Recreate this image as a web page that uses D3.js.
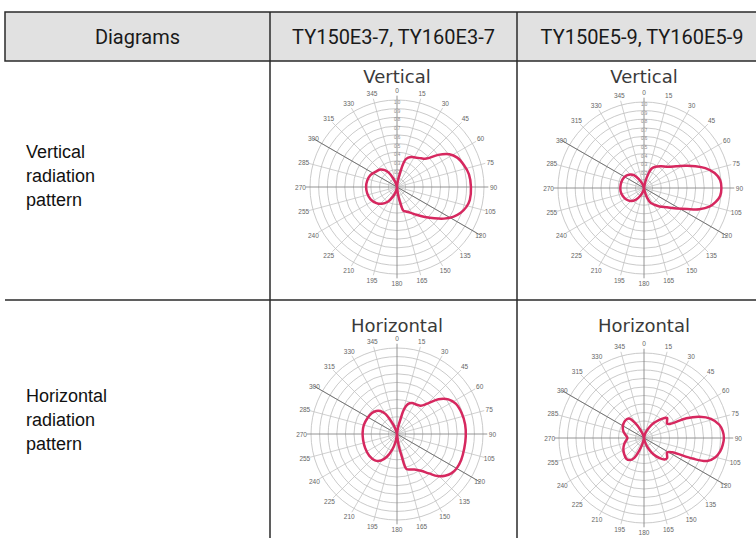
<!DOCTYPE html>
<html><head><meta charset="utf-8">
<script src="https://cdn.jsdelivr.net/npm/d3@7/dist/d3.min.js"></script>
<style>body{margin:0;background:#fff}svg{display:block}</style>
</head><body>
<svg id="c" width="756" height="538"></svg>
<script>
// ---------- data ----------
const headers = ["Diagrams", "TY150E3-7, TY160E3-7", "TY150E5-9, TY160E5-9"];
const rowLabelsVertical = ["Vertical", "radiation", "pattern"];
const rowLabelsHorizontal = ["Horizontal", "radiation", "pattern"];
const chartTitles = ["Vertical", "Horizontal"];
const angleTicks = [0,15,30,45,60,75,90,105,120,135,150,165,180,195,210,225,240,255,270,285,300,315,330,345];
const ringValues = [0.1,0.2,0.3,0.4,0.5,0.6,0.7,0.8,0.9,1.0];
const ringLabels = ["0.1","0.2","0.3","0.4","0.5","0.6","0.7","0.8","0.9","1.0"];

// patterns: [angle in degrees, relative field strength 0..1]
const vertE37 = [[0,0],[3,0],[8,0.07],[12,0.16],[15,0.28],[18,0.34],[25,0.38],[32,0.40],[40,0.43],[46,0.47],[52,0.60],[58,0.71],[64,0.77],[72,0.81],[80,0.84],[90,0.85],[100,0.85],[106,0.83],[112,0.79],[118,0.73],[124,0.65],[130,0.56],[137,0.47],[145,0.39],[153,0.33],[160,0.30],[165,0.28],[168,0.20],[172,0.10],[177,0],[183,0],[195,0.06],[203,0.12],[212,0.20],[222,0.26],[232,0.30],[245,0.335],[258,0.35],[270,0.355],[282,0.35],[294,0.335],[306,0.30],[316,0.28],[324,0.24],[330,0.19],[336,0.11],[343,0.04],[350,0]];
const vertE59 = [[0,0],[6,0],[12,0.08],[17,0.17],[21,0.24],[28,0.28],[38,0.32],[48,0.37],[56,0.45],[62,0.55],[67,0.65],[72,0.75],[78,0.84],[84,0.89],[90,0.90],[96,0.89],[101,0.85],[106,0.79],[111,0.69],[116,0.56],[122,0.45],[130,0.35],[140,0.28],[148,0.23],[156,0.19],[162,0.12],[168,0.05],[174,0],[186,0],[195,0.04],[205,0.10],[215,0.17],[225,0.215],[237,0.245],[250,0.265],[262,0.275],[272,0.275],[285,0.272],[298,0.262],[308,0.245],[316,0.22],[322,0.19],[330,0.12],[338,0.05],[345,0]];
const horE37 = [[0,0],[4,0],[9,0.08],[13,0.17],[16,0.30],[20,0.37],[26,0.40],[33,0.41],[40,0.43],[45,0.50],[50,0.63],[56,0.72],[63,0.77],[72,0.79],[82,0.80],[92,0.80],[102,0.80],[112,0.805],[120,0.80],[126,0.78],[131,0.74],[136,0.68],[141,0.59],[147,0.51],[154,0.46],[160,0.44],[165,0.42],[168,0.27],[172,0.13],[176,0],[186,0],[191,0.10],[197,0.19],[204,0.29],[211,0.36],[220,0.40],[232,0.41],[246,0.405],[260,0.40],[272,0.40],[285,0.40],[298,0.39],[310,0.38],[318,0.36],[324,0.33],[330,0.27],[335,0.17],[341,0.08],[347,0]];
const horE59 = [[0,0],[8,0],[16,0.06],[25,0.13],[33,0.21],[40,0.28],[45,0.33],[49,0.36],[53,0.34],[58,0.32],[62,0.36],[65,0.55],[69,0.70],[74,0.82],[80,0.90],[85,0.93],[90,0.94],[95,0.93],[100,0.91],[105,0.87],[110,0.79],[113,0.62],[117,0.37],[122,0.32],[127,0.34],[131,0.36],[136,0.35],[142,0.30],[150,0.22],[158,0.13],[166,0.05],[172,0],[188,0],[194,0.06],[200,0.15],[206,0.26],[213,0.31],[221,0.32],[231,0.30],[242,0.275],[254,0.24],[263,0.21],[270,0.195],[278,0.215],[288,0.255],[299,0.285],[310,0.30],[318,0.30],[324,0.28],[329,0.21],[336,0.11],[343,0.04],[350,0]];

// ---------- drawing ----------
const svg = d3.select("#c");
const lineCol = "#2a2a2a";

// header
svg.append("rect").attr("x", 5).attr("y", 12).attr("width", 760).attr("height", 49)
  .attr("fill", "#e1e1e1").attr("stroke", lineCol).attr("stroke-width", 1.5);
const colX = [5, 270, 517, 767];
const headFont = "Roboto, 'Liberation Sans', sans-serif";
headers.forEach((h, i) => {
  svg.append("text").attr("x", (colX[i] + colX[i+1]) / 2).attr("y", 44)
    .attr("text-anchor", "middle").attr("font-family", headFont).attr("font-size", 20)
    .attr("font-weight", 400).attr("fill", "#1a1a1a").text(h);
});
// grid lines of table
[270, 517].forEach(x => svg.append("line").attr("x1", x).attr("x2", x).attr("y1", 12).attr("y2", 538)
  .attr("stroke", lineCol).attr("stroke-width", 1.5));
svg.append("line").attr("x1", 5).attr("x2", 756).attr("y1", 300).attr("y2", 300)
  .attr("stroke", lineCol).attr("stroke-width", 1.5);

// row labels
function rowLabel(lines, y0) {
  const t = svg.append("text").attr("font-family", "'Liberation Sans', Arial, sans-serif")
    .attr("font-size", 18).attr("fill", "#111");
  lines.forEach((s, i) => t.append("tspan").attr("x", 26).attr("y", y0 + i * 24).text(s));
}
rowLabel(rowLabelsVertical, 158);
rowLabel(rowLabelsHorizontal, 402);

const angle = d3.scaleLinear().domain([0, 360]).range([0, 2 * Math.PI]);

function polarChart(cx, cy, R, title, titleY, data, withRingLabels) {
  const g = svg.append("g").attr("transform", `translate(${cx},${cy})`);
  const r = d3.scaleLinear().domain([0, 1]).range([0, R]);
  const pt = (a, v) => [Math.sin(angle(a)) * r(v), -Math.cos(angle(a)) * r(v)];
  // rings
  g.selectAll("circle.ring").data(ringValues).join("circle")
    .attr("r", d => r(d)).attr("fill", "none").attr("stroke", "#b8b8b8").attr("stroke-width", 0.75);
  // spokes
  g.selectAll("line.spoke").data(angleTicks).join("line")
    .attr("x1", 0).attr("y1", 0)
    .attr("x2", d => pt(d, 1.05)[0]).attr("y2", d => pt(d, 1.05)[1])
    .attr("stroke", d => (d % 90 === 0) ? "#888" : "#c0c0c0")
    .attr("stroke-width", d => (d % 90 === 0) ? 0.9 : 0.75);
  // dark diagonal 300-120
  g.append("line").attr("x1", pt(300, 1.12)[0]).attr("y1", pt(300, 1.12)[1])
    .attr("x2", pt(120, 1.12)[0]).attr("y2", pt(120, 1.12)[1])
    .attr("stroke", "#6a6a6a").attr("stroke-width", 0.9);
  // angle labels
  g.selectAll("text.ang").data(angleTicks).join("text")
    .attr("x", d => pt(d, 1.11)[0]).attr("y", d => pt(d, 1.11)[1])
    .attr("text-anchor", "middle").attr("dominant-baseline", "central")
    .attr("font-family", "'Liberation Sans', Arial, sans-serif").attr("font-size", 6.5)
    .attr("fill", "#666").text(d => d);
  if (withRingLabels) {
    g.selectAll("text.rl").data(ringValues.slice(1)).join("text")
      .attr("x", 0).attr("y", d => -r(d) + 4).attr("text-anchor", "middle")
      .attr("font-family", "'Liberation Sans', Arial, sans-serif").attr("font-size", 4.5)
      .attr("fill", "#888").text((d, i) => ringLabels[i + 1]);
  }
  // title
  svg.append("text").attr("x", cx).attr("y", titleY).attr("text-anchor", "middle")
    .attr("font-family", "'DejaVu Sans', 'Open Sans', sans-serif")
    .attr("font-size", 18).attr("fill", "#3a3a3a").text(title);
  // pattern
  const line = d3.lineRadial()
    .angle(d => angle(d[0])).radius(d => r(d[1]))
    .curve(d3.curveCatmullRomClosed.alpha(0.5));
  g.append("path").attr("d", line(data)).attr("fill", "none")
    .attr("stroke", "#d6285f").attr("stroke-width", 2.5).attr("stroke-linejoin", "round");
}

polarChart(397, 187, 87, chartTitles[0], 83, vertE37, true);
polarChart(644, 188, 86, chartTitles[0], 83, vertE59, true);
polarChart(397, 434, 86, chartTitles[1], 332, horE37, false);
polarChart(644, 438, 85, chartTitles[1], 332, horE59, false);
</script>
</body></html>
